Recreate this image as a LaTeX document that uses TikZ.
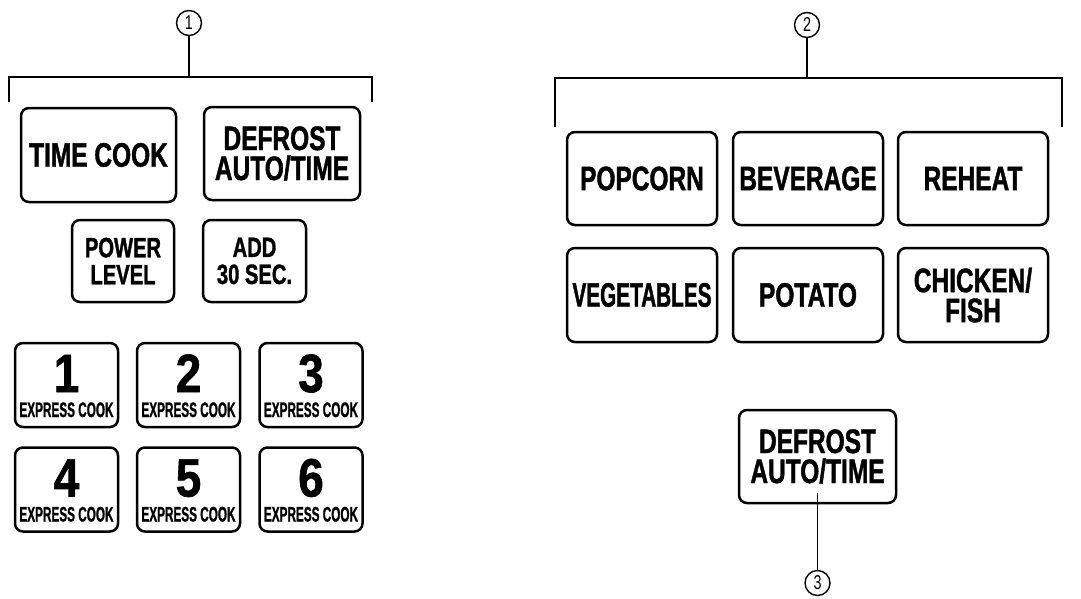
\documentclass[tikz,border=0pt]{standalone}
\usepackage{fontspec}
\newfontfamily\keyfont[FakeStretch=0.72, BoldFeatures={FakeBold=1.2}]{Liberation Sans}
\newfontfamily\narrowfont[FakeStretch=0.61, BoldFeatures={FakeBold=1.2}]{Liberation Sans}
\newfontfamily\digitfont[FakeStretch=0.85, BoldFeatures={FakeBold=1.2}]{Liberation Sans}
\newfontfamily\expressfont[FakeStretch=0.56, BoldFeatures={FakeBold=1}]{Liberation Sans}
\usepackage{tikz}
\usetikzlibrary{positioning}

\begin{document}
\begin{tikzpicture}[
  x=1pt, y=-1pt,
  key/.style={draw, line width=2.5pt, rounded corners=8pt, align=center, inner sep=0pt,
    font=\keyfont\bfseries\fontsize{34}{30}\selectfont},
  bigkey/.style={key, minimum width=150pt, minimum height=93pt},
  midkey/.style={key, minimum width=102pt, minimum height=82pt,
    font=\keyfont\bfseries\fontsize{28}{27}\selectfont},
  numkey/.style={key, minimum width=103pt, minimum height=84pt},
  digit/.style={inner sep=0pt, font=\digitfont\bfseries\fontsize{54}{54}\selectfont},
  express/.style={inner sep=0pt, font=\expressfont\bfseries\fontsize{21}{21}\selectfont},
  callout/.style={circle, draw, line width=1.4pt, minimum size=25pt, inner sep=0pt,
    font=\keyfont\fontsize{20}{20}\selectfont},
  bracket/.style={line width=2pt},
  stem/.style={line width=1.5pt}
]
  \useasboundingbox (0,0) rectangle (1081,598);

  % Left panel: time keys
  \node[bigkey, minimum width=155pt, minimum height=94pt] (tcook) at (98.5,155) {TIME COOK};
  \node[bigkey, minimum width=156pt] (defrost) at (282,153.5) {DEFROST\\AUTO/TIME};
  \node[midkey] (power) at (123,261) {POWER\\LEVEL};
  \node[midkey, minimum width=103pt] (addsec) at (254.5,261) {ADD\\30 SEC.};

  % Express cook keys
  \foreach \n/\x/\y in {1/66.5/385, 2/188.5/385, 3/311/385,
                        4/66.5/489.5, 5/188.5/489.5, 6/311/489.5} {
    \node[numkey] (k\n) at (\x,\y) {};
    \node[digit, anchor=base] (d\n) at (\x,\y+7) {\n};
    \node[express, anchor=base] (e\n) at (\x,\y+32) {EXPRESS COOK};
  }

  % Callout 1
  \node[callout] (c1) at (189,23) {1};
  \coordinate (b1) at (189,77);
  \draw[bracket] (9,102) -- (9,77) -- (372,77) -- (372,102);
  \draw[stem] (c1.south) -- (b1);

  % Right panel: auto cook keys
  \node[bigkey] (popcorn) at (642,178.5) {POPCORN};
  \node[bigkey] (beverage) at (808,178.5) {BEVERAGE};
  \node[bigkey] (reheat) at (973,178.5) {REHEAT};
  \node[bigkey, minimum height=94pt, font=\narrowfont\bfseries\fontsize{34}{30}\selectfont]
    (vegetables) at (642,295) {VEGETABLES};
  \node[bigkey, minimum height=94pt] (potato) at (808,295) {POTATO};
  \node[bigkey, minimum height=94pt] (chicken) at (973,295) {CHICKEN/\\FISH};

  % Callout 2
  \node[callout] (c2) at (807,25) {2};
  \coordinate (b2) at (807,78);
  \draw[bracket] (555,127) -- (555,78) -- (1062,78) -- (1062,127);
  \draw[stem] (c2.south) -- (b2);

  % Defrost key with callout 3
  \node[bigkey, minimum width=157pt] (defrost2) at (817.5,456.5) {DEFROST\\AUTO/TIME};
  \node[callout] (c3) at (817.5,583) {3};
  \draw[stem] ([yshift=11pt]defrost2.south) -- (c3.north);
\end{tikzpicture}
\end{document}
